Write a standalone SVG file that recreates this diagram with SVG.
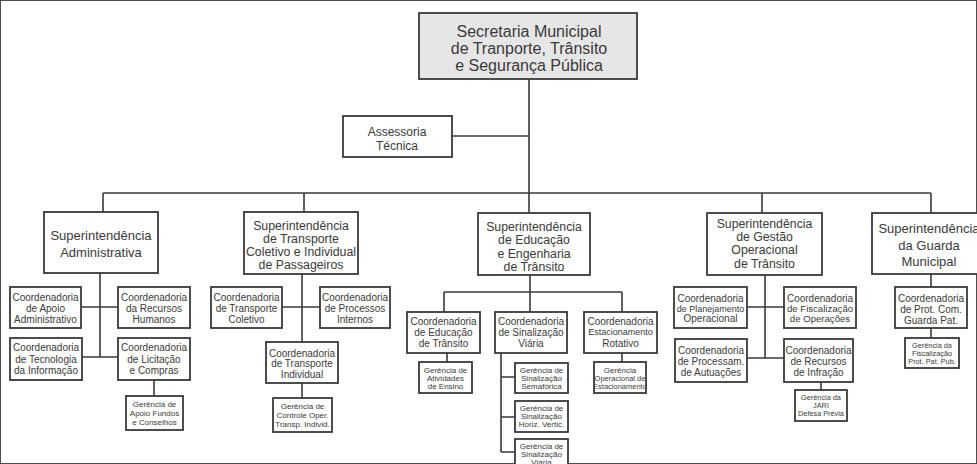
<svg xmlns="http://www.w3.org/2000/svg" width="977" height="464" viewBox="0 0 977 464">
<style>
rect{fill:#fff;stroke:#3a3a3a;stroke-width:1.8}
rect.top{fill:#e6e6e6}
.c path{fill:none;stroke:#3a3a3a;stroke-width:1.6}
text{font-family:"Liberation Sans",Arial,sans-serif;fill:#3a3a3a;text-anchor:middle}
.t1{font-size:16px}
.t2{font-size:13px}
.t2s{font-size:12.3px}
.t3{font-size:10px}
.t4{font-size:8px}
.t4s{font-size:7.3px}
.t5{font-size:12px}
</style>
<rect width="977" height="464" fill="#fff" stroke="none"/>
<g class="c">
<path d="M529 79V193M452 136H529M103 193H931M103 193V212M304 193V212M529 193V213M762 193V213M931 193V213"/>
<path d="M100 273V357M81 307H118M82 357H118M154 380V396"/>
<path d="M302 274V342M282 307H320M302 383V398"/>
<path d="M530 275V292M444 292H622M444 292V312M530 292V312M622 292V312M447 353V362M501 353V452M501 377H515M501 417H515M501 452H515M622 353V362"/>
<path d="M765 275V358M747 307H784M747 358H784M821 382V390"/>
<path d="M931 274V287M931 328V338"/>
</g>
<g id="secretaria"><rect class="top" x="419" y="13" width="218" height="66"/>
<text class="t1" x="529" y="37">Secretaria Municipal</text><text class="t1" x="529" y="54">de Tranporte, Trânsito</text><text class="t1" x="529" y="71">e Segurança Pública</text></g>
<g id="assessoria"><rect x="343" y="116" width="109" height="41"/>
<text class="t5" x="397" y="136">Assessoria</text><text class="t5" x="397" y="150">Técnica</text></g>

<g id="sup-admin"><rect x="44" y="212" width="114" height="61"/>
<text class="t2" x="101" y="240">Superintendência</text><text class="t2" x="101" y="257">Administrativa</text></g>
<g id="c-apoio"><rect x="10" y="287" width="71" height="41"/>
<text class="t3" x="45.5" y="300.5">Coordenadoria</text><text class="t3" x="45.5" y="311.5">de Apoio</text><text class="t3" x="45.5" y="322.5">Administrativo</text></g>
<g id="c-rh"><rect x="118" y="287" width="72" height="41"/>
<text class="t3" x="154" y="300.5">Coordenadoria</text><text class="t3" x="154" y="311.5">da Recursos</text><text class="t3" x="154" y="322.5">Humanos</text></g>
<g id="c-tec"><rect x="10" y="338" width="72" height="42"/>
<text class="t3" x="46" y="351">Coordenadoria</text><text class="t3" x="46" y="362.5">de Tecnologia</text><text class="t3" x="46" y="374">da Informação</text></g>
<g id="c-lic"><rect x="118" y="338" width="72" height="42"/>
<text class="t3" x="154" y="351">Coordenadoria</text><text class="t3" x="154" y="362.5">de Licitação</text><text class="t3" x="154" y="374">e Compras</text></g>
<g id="g-apoio"><rect x="126" y="396" width="57" height="34"/>
<text class="t4" x="154.5" y="407">Gerência de</text><text class="t4" x="154.5" y="416">Apoio Fundos</text><text class="t4" x="154.5" y="425">e Conselhos</text></g>

<g id="sup-transp"><rect x="244" y="212" width="114" height="62"/>
<text class="t2s" x="301" y="229.5">Superintendência</text><text class="t2s" x="301" y="242.5">de Transporte</text><text class="t2s" x="301" y="256">Coletivo e Individual</text><text class="t2s" x="301" y="269">de Passageiros</text></g>
<g id="c-coletivo"><rect x="211" y="287" width="71" height="41"/>
<text class="t3" x="246.5" y="300.5">Coordenadoria</text><text class="t3" x="246.5" y="311.5">de Transporte</text><text class="t3" x="246.5" y="322.5">Coletivo</text></g>
<g id="c-processos"><rect x="320" y="287" width="70" height="41"/>
<text class="t3" x="355" y="300.5">Coordenadoria</text><text class="t3" x="355" y="311.5">de Processos</text><text class="t3" x="355" y="322.5">Internos</text></g>
<g id="c-individual"><rect x="266" y="342" width="72" height="41"/>
<text class="t3" x="302" y="356.5">Coordenadoria</text><text class="t3" x="302" y="366.5">de Transporte</text><text class="t3" x="302" y="377.5">Individual</text></g>
<g id="g-controle"><rect x="273" y="398" width="59" height="34"/>
<text class="t4" x="302.5" y="409">Gerência de</text><text class="t4" x="302.5" y="418">Controle Oper.</text><text class="t4" x="302.5" y="427">Transp. Individ.</text></g>

<g id="sup-educ"><rect x="478" y="213" width="112" height="62"/>
<text class="t2s" x="534" y="230.5">Superintendência</text><text class="t2s" x="534" y="244">de Educação</text><text class="t2s" x="534" y="257.5">e Engenharia</text><text class="t2s" x="534" y="271">de Trânsito</text></g>
<g id="c-educ"><rect x="407" y="312" width="73" height="41"/>
<text class="t3" x="443.5" y="324.5">Coordenadoria</text><text class="t3" x="443.5" y="335.5">de Educação</text><text class="t3" x="443.5" y="346.5">de Trânsito</text></g>
<g id="c-sinal"><rect x="495" y="312" width="72" height="41"/>
<text class="t3" x="531" y="324.5">Coordenadoria</text><text class="t3" x="531" y="335.5">de Sinalização</text><text class="t3" x="531" y="346.5">Viária</text></g>
<g id="c-estac"><rect x="584" y="312" width="73" height="41"/>
<text class="t3" x="620.5" y="324.5">Coordenadoria</text><text class="t4" x="620.5" y="335" style="font-size:9px">Estacionamento</text><text class="t3" x="620.5" y="346.5">Rotativo</text></g>
<g id="g-ensino"><rect x="419" y="362" width="53" height="31"/>
<text class="t4" x="445.5" y="373">Gerência de</text><text class="t4" x="445.5" y="381">Atividades</text><text class="t4" x="445.5" y="389">de Ensino</text></g>
<g id="g-semaf"><rect x="515" y="363" width="53" height="30"/>
<text class="t4" x="541.5" y="373">Gerência de</text><text class="t4" x="541.5" y="381">Sinalização</text><text class="t4" x="541.5" y="389">Semafórica</text></g>
<g id="g-horiz"><rect x="515" y="401" width="53" height="31"/>
<text class="t4" x="541.5" y="411">Gerência de</text><text class="t4" x="541.5" y="419">Sinalização</text><text class="t4" x="541.5" y="427">Horiz. Vertic.</text></g>
<g id="g-viaria"><rect x="515" y="439" width="53" height="35"/>
<text class="t4" x="541.5" y="449">Gerência de</text><text class="t4" x="541.5" y="457">Sinalização</text><text class="t4" x="541.5" y="465">Viária</text></g>
<g id="g-estac"><rect x="594" y="362" width="52" height="31"/>
<text class="t4" x="620" y="373">Gerência</text><text class="t4" x="620" y="381" style="font-size:7.5px">Operacional de</text><text class="t4" x="620" y="389" style="font-size:7.5px">Estacionamento</text></g>

<g id="sup-gestao"><rect x="707" y="213" width="115" height="62"/>
<text class="t2s" x="764.5" y="227.5">Superintendência</text><text class="t2s" x="764.5" y="240.5">de Gestão</text><text class="t2s" x="764.5" y="254">Operacional</text><text class="t2s" x="764.5" y="267.5">de Trânsito</text></g>
<g id="c-planej"><rect x="674" y="287" width="73" height="41"/>
<text class="t3" x="710.5" y="301.5">Coordenadoria</text><text class="t3" x="710.5" y="311.5" style="font-size:9px">de Planejamento</text><text class="t3" x="710.5" y="321.5">Operacional</text></g>
<g id="c-fisc"><rect x="784" y="287" width="72" height="41"/>
<text class="t3" x="820" y="301.5">Coordenadoria</text><text class="t3" x="820" y="311.5" style="font-size:9.6px">de Fiscalização</text><text class="t3" x="820" y="321.5" style="font-size:9.6px">de Operações</text></g>
<g id="c-processam"><rect x="675" y="339" width="72" height="43"/>
<text class="t3" x="711" y="353.5">Coordenadoria</text><text class="t3" x="711" y="364.5">de Processam.</text><text class="t3" x="711" y="375.5">de Autuações</text></g>
<g id="c-recursos"><rect x="784" y="339" width="69" height="43"/>
<text class="t3" x="818.5" y="353.5">Coordenadoria</text><text class="t3" x="818.5" y="364.5">de Recursos</text><text class="t3" x="818.5" y="375.5">de Infração</text></g>
<g id="g-jari"><rect x="795" y="390" width="52" height="31"/>
<text class="t4s" x="821" y="399.5">Gerência da</text><text class="t4s" x="821" y="407.5">JARI</text><text class="t4s" x="821" y="415.5">Defesa Prévia</text></g>

<g id="sup-guarda"><rect x="872" y="213" width="115" height="61"/>
<text class="t2" x="929" y="233">Superintendência</text><text class="t2" x="929" y="250">da Guarda</text><text class="t2" x="929" y="266">Municipal</text></g>
<g id="c-guarda"><rect x="895" y="287" width="72" height="41"/>
<text class="t3" x="931" y="301.5">Coordenadoria</text><text class="t3" x="931" y="312.5">de Prot. Com.</text><text class="t3" x="931" y="323.5">Guarda Pat.</text></g>
<g id="g-guarda"><rect x="905" y="338" width="54" height="30"/>
<text class="t4s" x="932" y="348">Gerência da</text><text class="t4s" x="932" y="356">Fiscalização</text><text class="t4s" x="932" y="364">Prot. Pat. Pub.</text></g>
</svg>
